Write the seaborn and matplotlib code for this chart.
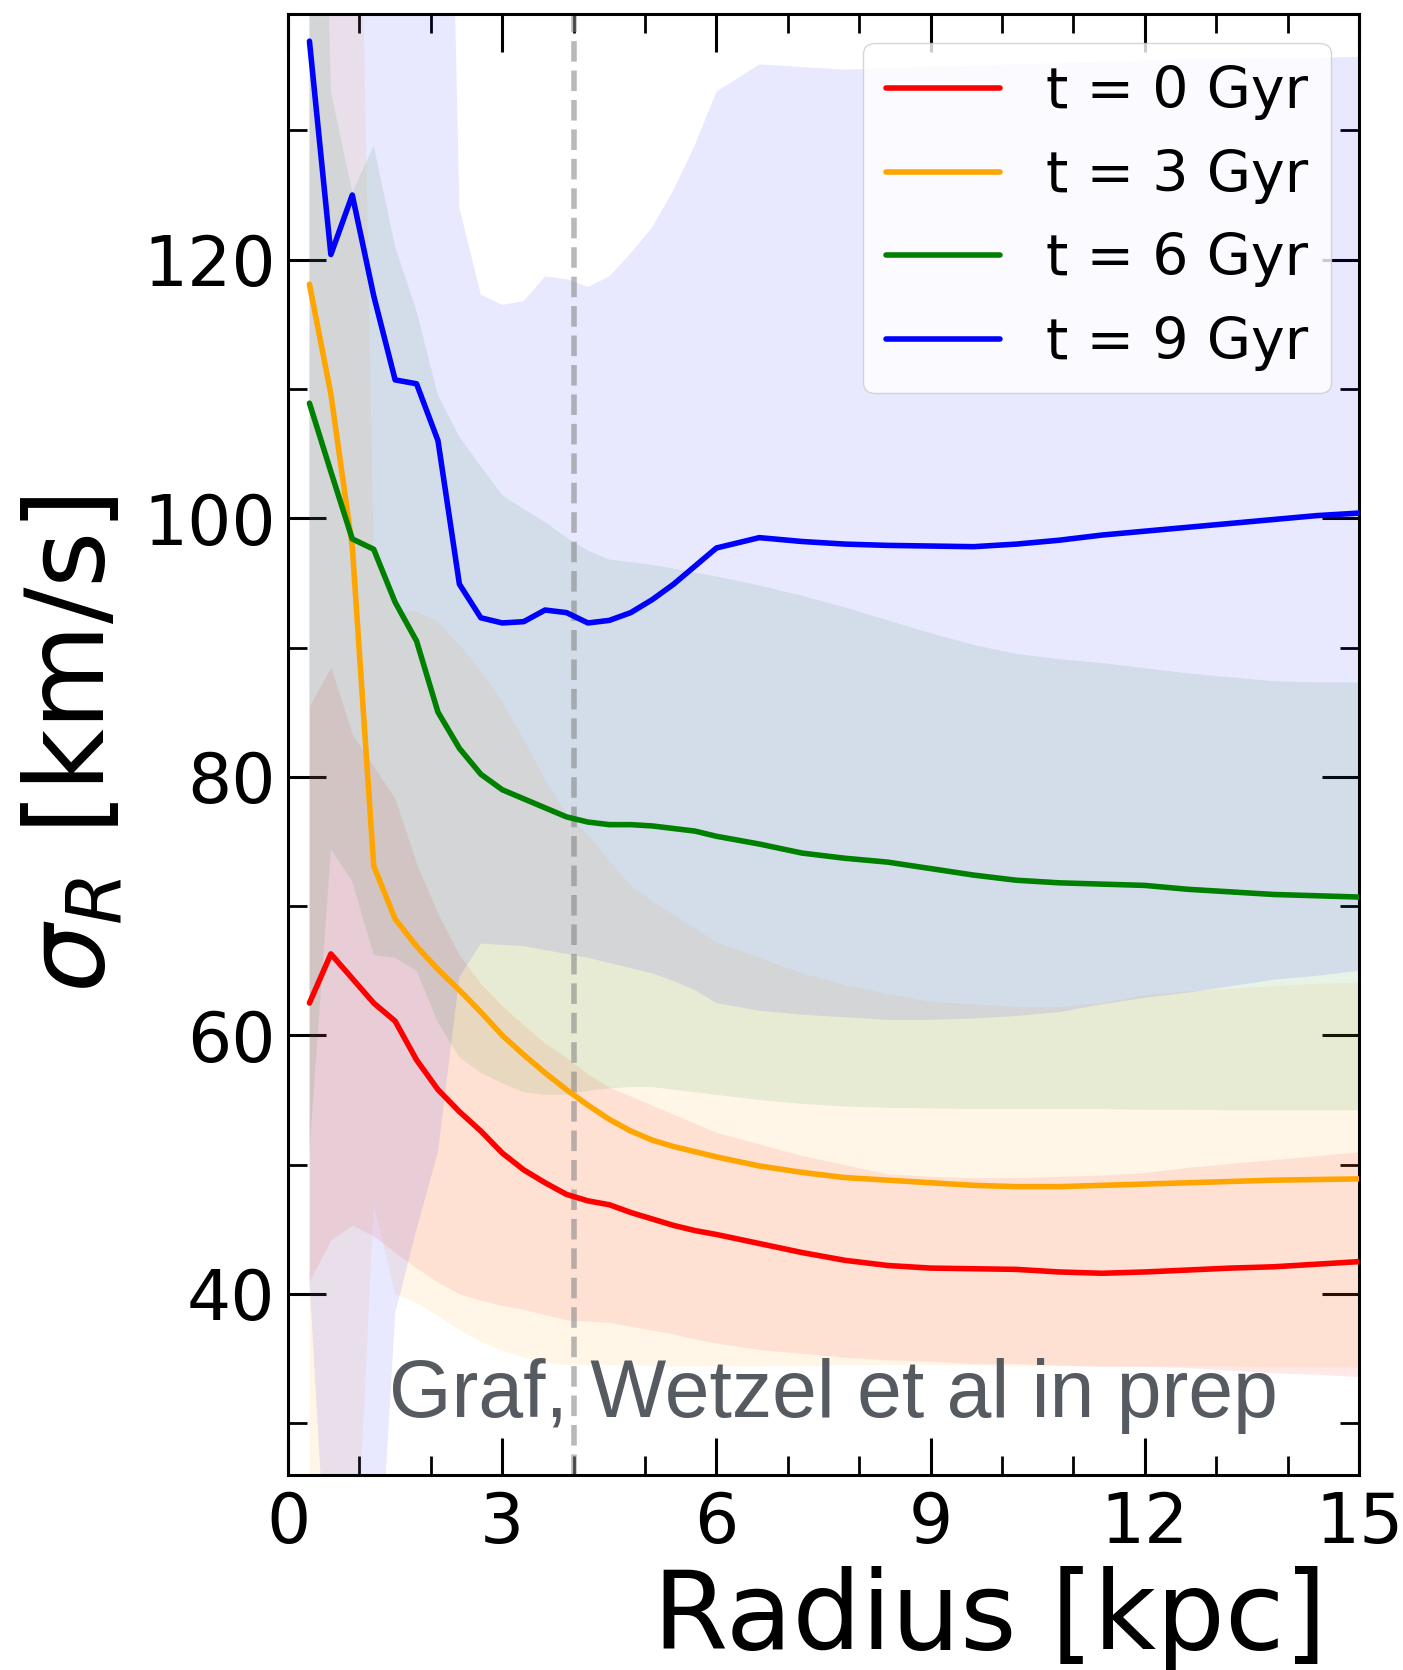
import numpy as np
import pandas as pd
import matplotlib
matplotlib.use("Agg")
import matplotlib.pyplot as plt
from matplotlib.ticker import MultipleLocator
import seaborn as sns

# Radial grid [kpc]
radius = [0.3, 0.6, 0.9, 1.2, 1.5, 1.8, 2.1, 2.4, 2.7, 3.0,
          3.3, 3.6, 3.9, 4.2, 4.5, 4.8, 5.1, 5.4, 5.7, 6.0,
          6.6, 7.2, 7.8, 8.4, 9.0, 9.6, 10.2, 10.8, 11.4, 12.0,
          12.6, 13.2, 13.8, 14.4, 15.0]

# Median radial velocity dispersion [km/s] at each epoch
sigma_t0 = [62.5, 66.3, 64.4, 62.5, 61.1, 58.1, 55.8, 54.1, 52.6, 50.9,
            49.6, 48.6, 47.7, 47.2, 46.9, 46.3, 45.8, 45.3, 44.9, 44.6,
            43.9, 43.2, 42.6, 42.2, 42.0, 41.95, 41.9, 41.7, 41.6, 41.7,
            41.85, 42.0, 42.1, 42.3, 42.5]
sigma_t3 = [118.1, 109.6, 97.8, 73.1, 69.0, 66.9, 65.1, 63.5, 61.8, 60.0,
            58.5, 57.1, 55.8, 54.6, 53.5, 52.6, 51.9, 51.4, 51.0, 50.6,
            49.9, 49.4, 49.0, 48.8, 48.6, 48.4, 48.3, 48.3, 48.4, 48.5,
            48.6, 48.7, 48.8, 48.85, 48.9]
sigma_t6 = [108.9, 103.6, 98.4, 97.6, 93.5, 90.5, 85.0, 82.2, 80.2, 79.0,
            78.3, 77.6, 76.9, 76.5, 76.3, 76.3, 76.2, 76.0, 75.8, 75.4,
            74.8, 74.1, 73.7, 73.4, 72.9, 72.4, 72.0, 71.8, 71.7, 71.6,
            71.3, 71.1, 70.9, 70.8, 70.7]
sigma_t9 = [136.9, 120.4, 125.0, 117.2, 110.7, 110.4, 106.0, 94.9, 92.3, 91.9,
            92.0, 92.9, 92.7, 91.9, 92.1, 92.7, 93.7, 94.9, 96.3, 97.7,
            98.5, 98.2, 98.0, 97.9, 97.85, 97.8, 98.0, 98.3, 98.7, 99.0,
            99.3, 99.6, 99.9, 100.2, 100.4]

# Scatter envelopes (lower / upper) for each epoch
low_t0 = [41.0, 44.2, 45.3, 44.5, 43.2, 42.0, 40.9, 40.0, 39.5, 39.1,
          38.8, 38.4, 38.0, 37.9, 37.8, 37.5, 37.2, 36.9, 36.5, 36.2,
          35.7, 35.4, 35.1, 34.9, 34.8, 34.6, 34.6, 34.5, 34.4, 34.4,
          34.3, 34.1, 33.9, 33.8, 33.6]
high_t0 = [85.5, 88.5, 83.3, 80.8, 78.3, 73.3, 69.4, 66.2, 64.0, 62.3,
           60.8, 59.4, 58.3, 57.0, 56.0, 55.3, 54.6, 53.9, 53.2, 52.5,
           51.6, 50.7, 50.0, 49.3, 49.1, 49.0, 49.0, 49.1, 49.2, 49.4,
           49.8, 50.1, 50.4, 50.7, 51.0]
low_t3 = [10.0, 10.0, 12.0, 47.0, 40.0, 39.3, 38.3, 37.2, 36.3, 35.6,
          35.1, 34.7, 34.5, 34.5, 34.5, 34.5, 34.4, 34.4, 34.4, 34.4,
          34.4, 34.4, 34.5, 34.5, 34.5, 34.5, 34.4, 34.4, 34.4, 34.4,
          34.4, 34.4, 34.3, 34.3, 34.3]
high_t3 = [200.0, 200.0, 185.0, 97.2, 92.7, 92.8, 92.0, 90.2, 88.2, 85.8,
           82.9, 79.8, 77.2, 75.5, 73.5, 71.6, 70.4, 69.3, 68.3, 67.2,
           66.0, 64.8, 63.9, 63.2, 62.6, 62.4, 62.2, 62.2, 62.5, 63.1,
           63.4, 63.6, 63.8, 64.0, 64.1]
low_t6 = [51.0, 74.4, 71.9, 66.2, 66.0, 65.0, 61.0, 58.3, 57.1, 56.3,
          55.6, 55.4, 55.4, 55.7, 55.9, 56.0, 56.0, 55.8, 55.6, 55.4,
          55.0, 54.7, 54.5, 54.4, 54.35, 54.3, 54.3, 54.3, 54.3, 54.25,
          54.25, 54.2, 54.2, 54.2, 54.2]
high_t6 = [200.0, 133.0, 125.2, 128.8, 121.0, 116.0, 109.5, 106.3, 104.0, 101.8,
           100.7, 99.7, 98.5, 97.5, 96.8, 96.6, 96.4, 96.1, 95.8, 95.5,
           94.8, 94.0, 93.1, 92.1, 91.1, 90.2, 89.5, 89.1, 88.8, 88.4,
           88.0, 87.7, 87.4, 87.3, 87.3]
low_t9 = [41.0, 12.0, 10.0, 10.0, 38.5, 45.0, 51.0, 64.5, 67.1, 67.0,
          66.9, 66.6, 66.3, 66.0, 65.6, 65.2, 64.8, 64.2, 63.5, 62.5,
          61.9, 61.6, 61.4, 61.2, 61.2, 61.3, 61.5, 61.8, 62.4, 62.9,
          63.3, 63.8, 64.3, 64.6, 65.0]
high_t9 = [200.0, 200.0, 200.0, 200.0, 200.0, 200.0, 200.0, 124.0, 117.3, 116.5,
           116.8, 118.7, 118.5, 117.9, 118.7, 120.5, 122.5, 125.4, 128.9, 133.0,
           135.1, 134.9, 134.7, 134.8, 134.9, 135.0, 135.1, 135.2, 135.3, 135.4,
           135.5, 135.5, 135.6, 135.6, 135.7]

labels = ["t = 0 Gyr", "t = 3 Gyr", "t = 6 Gyr", "t = 9 Gyr"]
colors = ["red", "orange", "green", "blue"]
medians = [sigma_t0, sigma_t3, sigma_t6, sigma_t9]
lows = [low_t0, low_t3, low_t6, low_t9]
highs = [high_t0, high_t3, high_t6, high_t9]

x_ticks = [0, 3, 6, 9, 12, 15]
y_ticks = [40, 60, 80, 100, 120]

df = pd.concat(
    [pd.DataFrame({"radius": radius, "sigma": m, "epoch": lab})
     for m, lab in zip(medians, labels)],
    ignore_index=True,
)

sns.set_style("ticks")
plt.rcParams["font.family"] = ["DejaVu Sans"]
plt.rcParams["mathtext.fontset"] = "dejavusans"
for key in ("text.color", "axes.labelcolor", "xtick.color", "ytick.color",
            "axes.edgecolor"):
    plt.rcParams[key] = "black"

fig = plt.figure(figsize=(14.03, 16.70), dpi=100)
ax = fig.add_axes([0.2053, 0.1168, 0.7634, 0.8748])

for lo, hi, c in zip(lows, highs, colors):
    ax.fill_between(radius, lo, hi, color=c, alpha=0.09, linewidth=0, zorder=1)

ax.axvline(4, color="gray", ls="--", lw=4, alpha=0.55, zorder=1.5)

sns.lineplot(data=df, x="radius", y="sigma", hue="epoch", hue_order=labels,
             palette=dict(zip(labels, colors)), estimator=None, sort=False,
             lw=4, ax=ax, zorder=3)

ax.text(1.42, 30.5, "Graf, Wetzel et al in prep", fontsize=58,
        family="Liberation Sans", color="#565b62", ha="left", va="baseline",
        zorder=4)

ax.set_xlim(0, 15)
ax.set_ylim(26, 139)
ax.set_xticks(x_ticks)
ax.set_yticks(y_ticks)
ax.xaxis.set_minor_locator(MultipleLocator(1))
ax.yaxis.set_minor_locator(MultipleLocator(10))
ax.tick_params(which="both", direction="in", top=True, right=True)
ax.tick_params(which="major", length=27, width=2.2, labelsize=50)
ax.tick_params(axis="x", which="major", pad=11)
ax.tick_params(axis="y", which="major", pad=9)
ax.tick_params(which="minor", length=13.5, width=2.0)
for s in ax.spines.values():
    s.set_linewidth(2.2)
    s.set_color("black")

ax.set_xlabel("Radius [kpc]", fontsize=78, x=0.655, labelpad=6)
ax.set_ylabel(r"$\sigma_R$ [km/s]", fontsize=78, labelpad=12)

leg = ax.legend(fontsize=41, loc="upper right", frameon=True,
                handlelength=2.0, labelspacing=0.5)
for h in leg.get_lines():
    h.set_linewidth(4)

fig.savefig("out.png", dpi=100)
